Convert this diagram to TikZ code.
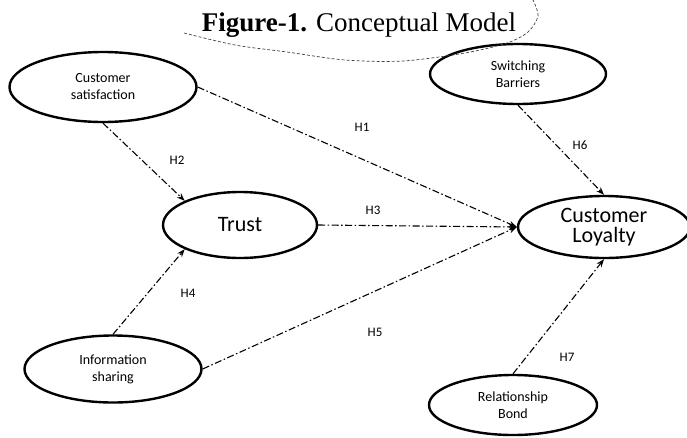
\documentclass[tikz,border=0pt]{standalone}
\usepackage{fontspec}
\setmainfont{Liberation Serif}
\newfontfamily\modelfont{Carlito}
\usetikzlibrary{shapes.geometric,arrows.meta,positioning}

\tikzset{
  construct/.style={draw, ellipse, line width=2.4pt, inner sep=0pt, align=center,
    font=\modelfont\fontsize{14}{17}\selectfont},
  bigconstruct/.style={construct, font=\modelfont\fontsize{22}{20}\selectfont},
  hyp/.style={line width=1.1pt, dash pattern=on 7pt off 2.5pt on 1.5pt off 2.5pt,
    -{Stealth[length=8pt,width=6pt]}},
  hlabel/.style={font=\modelfont\fontsize{13}{13}\selectfont, inner sep=1pt},
}

\begin{document}
\begin{tikzpicture}[x=1pt,y=-1pt]
\useasboundingbox (0,0) rectangle (687,437);

\node[anchor=base] (title) at (359,31) {\fontsize{27}{30}\selectfont\textbf{Figure-1.} Conceptual Model};

% constructs
\node[construct, minimum width=187pt, minimum height=70pt] (satisfaction) at (103,87) {Customer\\satisfaction};
\node[construct, minimum width=176pt, minimum height=60pt] (barriers) at (518,74) {Switching\\Barriers};
\node[bigconstruct, minimum width=154pt, minimum height=66pt] (trust) at (240,225) {Trust};
\node[bigconstruct, minimum width=172pt, minimum height=62pt] (loyalty) at (604,227) {Customer\\Loyalty};
\node[construct, minimum width=177pt, minimum height=67pt] (sharing) at (113,369) {Information\\sharing};
\node[construct, minimum width=168pt, minimum height=60pt] (bond) at (513,405) {Relationship\\Bond};

% hypotheses
\draw[hyp] (satisfaction.east) -- (loyalty.west);
\draw[hyp] (satisfaction.south) -- (trust.north west);
\draw[hyp] (trust.east) -- (loyalty.west);
\draw[hyp] (sharing.north) -- (trust.south west);
\draw[hyp] (sharing.east) -- (loyalty.west);
\draw[hyp] (barriers.south) -- (loyalty.north);
\draw[hyp] (bond.north) -- (loyalty.south);

\node[hlabel] (h1) at (362,127) {H1};
\node[hlabel] (h2) at (177,160) {H2};
\node[hlabel] (h3) at (373,210) {H3};
\node[hlabel] (h4) at (188,293) {H4};
\node[hlabel] (h5) at (375,332) {H5};
\node[hlabel] (h6) at (580,145) {H6};
\node[hlabel] (h7) at (567,357) {H7};

% loose curve round the title
\draw[densely dashed, line width=0.7pt, black!75] plot[smooth] coordinates
  {(184,33) (235,45) (287,52) (345,60) (403,61) (465,53) (507,43) (528,32) (538,16) (533,0)};
\end{tikzpicture}
\end{document}
